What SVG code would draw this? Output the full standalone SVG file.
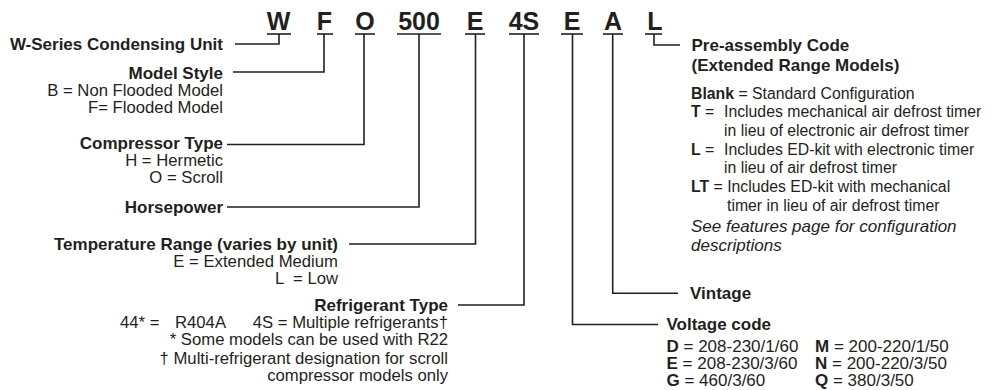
<svg xmlns="http://www.w3.org/2000/svg" width="1008" height="390" viewBox="0 0 1008 390">
<style>
text{font-family:"Liberation Sans",Arial,Helvetica,sans-serif;fill:#231f20;font-size:17px}
.b{font-weight:bold}
.i{font-style:italic}
.r{font-size:16.7px}
.o{font-size:15.8px}
.code{font-weight:bold;font-size:25px;text-anchor:middle}
.e{text-anchor:end}
.ul{stroke:#231f20;stroke-width:1.6}
.c{fill:none;stroke:#231f20;stroke-width:1.6}
</style>
<rect width="1008" height="390" fill="#fff"/>
<g id="model-code">
<text class="code" x="278.5" y="30">W</text>
<text class="code" x="324.5" y="30">F</text>
<text class="code" x="365" y="30">O</text>
<text class="code" x="419" y="30">500</text>
<text class="code" x="475" y="30">E</text>
<text class="code" x="524" y="30">4S</text>
<text class="code" x="572" y="30">E</text>
<text class="code" x="613" y="30">A</text>
<text class="code" x="655" y="30">L</text>
<line class="ul" x1="267" y1="34" x2="291" y2="34"/>
<line class="ul" x1="317" y1="34" x2="333" y2="34"/>
<line class="ul" x1="355" y1="34" x2="375" y2="34"/>
<line class="ul" x1="397" y1="34" x2="441" y2="34"/>
<line class="ul" x1="465" y1="34" x2="485" y2="34"/>
<line class="ul" x1="509" y1="34" x2="539" y2="34"/>
<line class="ul" x1="561" y1="34" x2="583" y2="34"/>
<line class="ul" x1="603" y1="34" x2="623" y2="34"/>
<line class="ul" x1="645" y1="34" x2="662" y2="34"/>
</g>
<g id="connectors">
<path class="c" d="M279,34 V44 H235"/>
<path class="c" d="M324,34 V72 H233"/>
<path class="c" d="M364,34 V144.5 H227"/>
<path class="c" d="M419,34 V207 H227"/>
<path class="c" d="M475.5,34 V244 H349"/>
<path class="c" d="M524,34 V305 H458"/>
<path class="c" d="M572.5,34 V324.5 H658"/>
<path class="c" d="M612.7,34 V293.3 H678"/>
<path class="c" d="M654,34 V45 H680"/>
</g>
<g id="series">
<text class="b e" x="223" y="50">W-Series Condensing Unit</text>
</g>
<g id="model-style">
<text class="b e" x="223" y="79">Model Style</text>
<text class="e r" x="223" y="96">B = Non Flooded Model</text>
<text class="e r" x="223" y="113">F= Flooded Model</text>
</g>
<g id="compressor-type">
<text class="b e" x="223" y="149">Compressor Type</text>
<text class="e r" x="223" y="166">H = Hermetic</text>
<text class="e r" x="223" y="183">O = Scroll</text>
</g>
<g id="horsepower">
<text class="b e" x="223" y="212.5">Horsepower</text>
</g>
<g id="temperature-range">
<text class="b e" x="338" y="249.5">Temperature Range (varies by unit)</text>
<text class="e r" x="338" y="266.5">E = Extended Medium</text>
<text class="e r" x="338" y="283.5" xml:space="preserve">L  = Low</text>
</g>
<g id="refrigerant-type">
<text class="b e" x="448" y="310.5">Refrigerant Type</text>
<text class="r" x="120" y="328">44* =</text>
<text class="r" x="175" y="328">R404A</text>
<text class="e r" x="448" y="328">4S = Multiple refrigerants†</text>
<text class="e r" x="448" y="345">* Some models can be used with R22</text>
<text class="e r" x="448" y="363.5">† Multi-refrigerant designation for scroll</text>
<text class="e r" x="448" y="380.5">compressor models only</text>
</g>
<g id="pre-assembly-code">
<text class="b" x="691.5" y="51">Pre-assembly Code</text>
<text class="b" x="691.5" y="71">(Extended Range Models)</text>
<text class="o" x="691" y="98.5"><tspan class="b">Blank</tspan> = Standard Configuration</text>
<text class="o" x="691" y="117"><tspan class="b">T</tspan> =</text>
<text class="o" x="724" y="117">Includes mechanical air defrost timer</text>
<text class="o" x="724" y="135.5">in lieu of electronic air defrost timer</text>
<text class="o" x="691" y="154.5"><tspan class="b">L</tspan> =</text>
<text class="o" x="724" y="154.5">Includes ED-kit with electronic timer</text>
<text class="o" x="724" y="173">in lieu of air defrost timer</text>
<text class="o" x="691" y="192"><tspan class="b">LT</tspan> = Includes ED-kit with mechanical</text>
<text class="o" x="727" y="210.5">timer in lieu of air defrost timer</text>
<text class="i" x="691" y="232">See features page for configuration</text>
<text class="i" x="691" y="251">descriptions</text>
</g>
<g id="vintage">
<text class="b" x="690" y="298.5">Vintage</text>
</g>
<g id="voltage-code">
<text class="b" x="666.5" y="330">Voltage code</text>
<text x="666.5" y="351.5"><tspan class="b">D</tspan> = 208-230/1/60</text>
<text x="666.5" y="368.5"><tspan class="b">E</tspan> = 208-230/3/60</text>
<text x="666.5" y="385.5"><tspan class="b">G</tspan> = 460/3/60</text>
<text x="815" y="351.5"><tspan class="b">M</tspan> = 200-220/1/50</text>
<text x="815" y="368.5"><tspan class="b">N</tspan> = 200-220/3/50</text>
<text x="815" y="385.5"><tspan class="b">Q</tspan> = 380/3/50</text>
</g>
</svg>
